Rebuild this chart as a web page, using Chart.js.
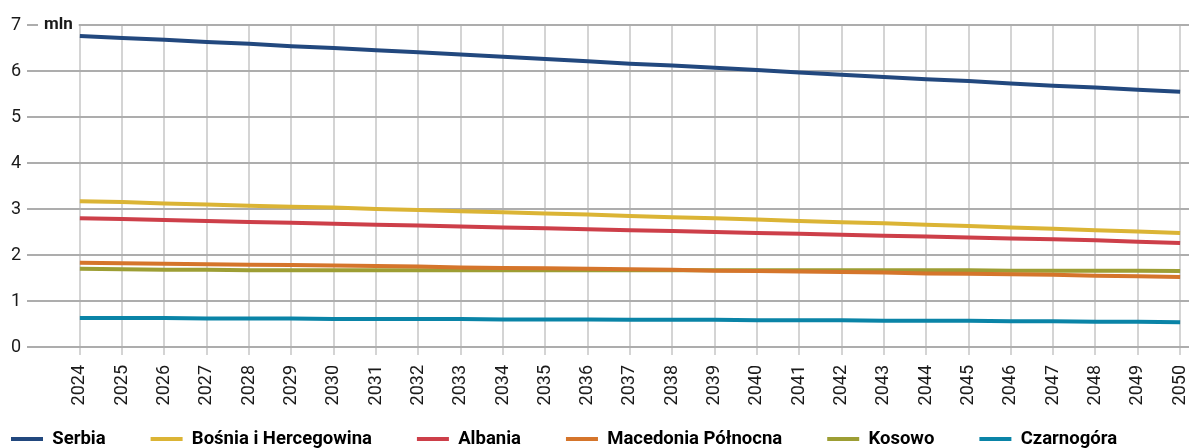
<!DOCTYPE html>
<html lang="pl">
<head>
<meta charset="utf-8">
<script src="https://cdn.jsdelivr.net/npm/chart.js@4"></script>
<style>
    html, body { margin: 0; padding: 0; background: #fff; overflow: hidden; }
    #wrap { position: relative; width: 1189px; height: 449px; }
</style>
</head>
<body>
<div id="wrap"><canvas id="myChart"></canvas></div>
<script>
const years = [2024, 2025, 2026, 2027, 2028, 2029, 2030, 2031, 2032, 2033, 2034, 2035, 2036, 2037,
    2038, 2039, 2040, 2041, 2042, 2043, 2044, 2045, 2046, 2047, 2048, 2049, 2050];

const yTicks = [0, 1, 2, 3, 4, 5, 6, 7];
const unitLabel = "mln";

const serbia = [6.76, 6.72, 6.68, 6.63, 6.59, 6.54, 6.50, 6.45, 6.41, 6.36, 6.31, 6.26, 6.21, 6.16,
    6.12, 6.07, 6.02, 5.97, 5.92, 5.87, 5.82, 5.78, 5.73, 5.68, 5.64, 5.59, 5.55];
const bosnia = [3.17, 3.15, 3.12, 3.10, 3.07, 3.05, 3.03, 3.00, 2.98, 2.95, 2.93, 2.90, 2.88, 2.85,
    2.82, 2.80, 2.77, 2.74, 2.71, 2.69, 2.66, 2.63, 2.60, 2.57, 2.54, 2.51, 2.48];
const albania = [2.80, 2.78, 2.76, 2.74, 2.72, 2.70, 2.68, 2.66, 2.64, 2.62, 2.60, 2.58, 2.56, 2.54,
    2.52, 2.50, 2.48, 2.46, 2.44, 2.42, 2.40, 2.38, 2.36, 2.34, 2.32, 2.29, 2.26];
const macedonia = [1.83, 1.82, 1.81, 1.80, 1.79, 1.78, 1.77, 1.76, 1.75, 1.73, 1.72, 1.71, 1.70, 1.69,
    1.68, 1.66, 1.65, 1.64, 1.63, 1.62, 1.60, 1.59, 1.58, 1.57, 1.55, 1.54, 1.52];
const kosovo = [1.70, 1.69, 1.68, 1.68, 1.67, 1.67, 1.67, 1.67, 1.67, 1.67, 1.67, 1.67, 1.67, 1.67,
    1.67, 1.67, 1.67, 1.67, 1.67, 1.67, 1.67, 1.67, 1.66, 1.66, 1.66, 1.66, 1.65];
const montenegro = [0.63, 0.63, 0.63, 0.62, 0.62, 0.62, 0.61, 0.61, 0.61, 0.61, 0.60, 0.60, 0.60, 0.59,
    0.59, 0.59, 0.58, 0.58, 0.58, 0.57, 0.57, 0.57, 0.56, 0.56, 0.55, 0.55, 0.54];

const seriesNames = ["Serbia", "Bośnia i Hercegowina", "Albania", "Macedonia Północna", "Kosowo", "Czarnogóra"];
const seriesValues = [serbia, bosnia, albania, macedonia, kosovo, montenegro];
const seriesColors = ["#22487e", "#dbb435", "#cd3f49", "#d5752b", "#9d9e34", "#0a84a7"];

const FONT = "Roboto, 'Liberation Sans', sans-serif";
const LEGEND_SIZE = 18.5;

function toPoints(values) {
    return years.map((yr, i) => ({ x: yr, y: values[i] }));
}

// "mln" unit label sitting on the top gridline
const unitPlugin = {
    id: "unitLabel",
    afterDraw(chart) {
        const ctx = chart.ctx;
        const y = chart.scales.y.getPixelForValue(yTicks[yTicks.length - 1]);
        ctx.save();
        ctx.font = "bold 17px " + FONT;
        ctx.textBaseline = "middle";
        const w = ctx.measureText(unitLabel).width;
        ctx.fillStyle = "#fff";
        ctx.fillRect(38, y - 9, w + 12, 18);
        ctx.fillStyle = "#1a1a1a";
        ctx.fillText(unitLabel, 44, y);
        ctx.restore();
    },
};

// legend kept on one row, starting from the left edge
const legendShift = {
    id: "legendShift",
    afterLayout(chart) {
        const lg = chart.legend;
        const pad = lg.options.labels.padding;
        const w = lg.right - lg.left;
        lg.left = 11 - pad;
        lg.right = lg.left + w + 100;
        lg.top = 439 - pad - LEGEND_SIZE / 2;
    },
};

const ctx = document.getElementById("myChart");

new Chart(ctx, {
    type: "line",
    data: {
        datasets: seriesNames.map((name, i) => ({
            label: name,
            data: toPoints(seriesValues[i]),
            borderColor: seriesColors[i],
            backgroundColor: seriesColors[i],
            borderWidth: 4,
            pointRadius: 0,
            tension: 0,
        })),
    },
    options: {
        responsive: true,
        maintainAspectRatio: false,
        animation: false,
        layout: { padding: { top: 25, right: 0, bottom: 0, left: 0 } },
        scales: {
            x: {
                type: "linear",
                min: 2022.94,
                max: 2050.21,
                afterBuildTicks(scale) {
                    scale.ticks = years.map((v) => ({ value: v }));
                },
                afterFit(scale) {
                    scale.height = 62;
                    scale.paddingLeft = 0;
                    scale.paddingRight = 0;
                },
                border: { display: false },
                grid: { color: "#d4d4d4", lineWidth: 2, tickLength: 8 },
                ticks: {
                    autoSkip: false,
                    minRotation: 90,
                    maxRotation: 90,
                    padding: 10,
                    color: "#1a1a1a",
                    font: { family: FONT, size: 18 },
                    callback: (v) => String(v),
                },
            },
            y: {
                min: 0,
                max: 7,
                afterBuildTicks(scale) {
                    scale.ticks = yTicks.map((v) => ({ value: v }));
                },
                afterFit(scale) {
                    scale.width = 35;
                },
                border: { display: false },
                grid: { color: "#adadad", lineWidth: 2, tickLength: 8 },
                ticks: {
                    padding: 6,
                    color: "#1a1a1a",
                    font: { family: FONT, size: 18 },
                },
            },
        },
        plugins: {
            title: { display: false },
            tooltip: { enabled: false },
            legend: {
                position: "bottom",
                align: "start",
                maxHeight: 40,
                labels: {
                    boxWidth: 32,
                    boxHeight: 4,
                    padding: 45,
                    color: "#1a1a1a",
                    font: { family: FONT, size: LEGEND_SIZE, weight: "bold" },
                    generateLabels(chart) {
                        return chart.data.datasets.map((ds, i) => ({
                            text: ds.label,
                            fillStyle: ds.borderColor,
                            strokeStyle: ds.borderColor,
                            lineWidth: 0,
                            hidden: false,
                            datasetIndex: i,
                        }));
                    },
                },
            },
        },
    },
    plugins: [unitPlugin, legendShift],
});
</script>
</body>
</html>
